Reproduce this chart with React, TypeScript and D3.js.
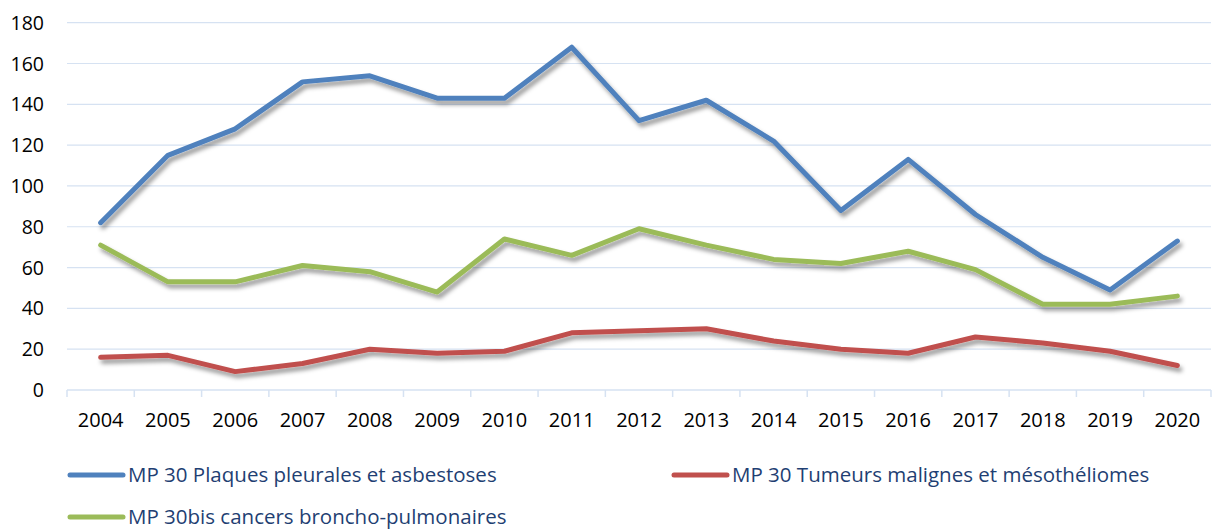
import React from 'react';
import * as d3 from 'd3';

const years = ['2004', '2005', '2006', '2007', '2008', '2009', '2010', '2011', '2012', '2013', '2014', '2015', '2016', '2017', '2018', '2019', '2020'];
const plaques = [82, 115, 128, 151, 154, 143, 143, 168, 132, 142, 122, 88, 113, 86, 65, 49, 73];
const tumeurs = [16, 17, 9, 13, 20, 18, 19, 28, 29, 30, 24, 20, 18, 26, 23, 19, 12];
const cancers = [71, 53, 53, 61, 58, 48, 74, 66, 79, 71, 64, 62, 68, 59, 42, 42, 46];
const yTicks = [0, 20, 40, 60, 80, 100, 120, 140, 160, 180];

const seriesNames = [
  'MP 30 Plaques pleurales et asbestoses',
  'MP 30 Tumeurs malignes et mésothéliomes',
  'MP 30bis cancers broncho-pulmonaires',
];
const seriesColors = ['#4F81BD', '#C0504D', '#9BBB59'];

const W = 1213;
const H = 530;
const margin = { top: 22.7, right: 2, bottom: 140, left: 67 };

const App: React.FC = () => {
  const x = d3.scaleBand<string>()
    .domain(years)
    .range([margin.left, W - margin.right]);

  const y = d3.scaleLinear()
    .domain([0, 180])
    .range([390, margin.top]);

  const line = d3.line<number>()
    .x((_, i) => (x(years[i]) || 0) + x.bandwidth() / 2)
    .y(d => y(d));

  const series = [plaques, tumeurs, cancers];
  const font = '"Open Sans", sans-serif';

  // legend layout: [x of line start, y]
  const legendPos = [[68, 475], [672, 475], [68, 517]];

  return (
    <svg width={W} height={H} style={{ position: 'absolute', left: 0, top: 0 }} fontFamily={font}>
      <defs>
        <filter id="shadow" x="-10%" y="-20%" width="120%" height="150%">
          <feDropShadow dx="2.5" dy="4" stdDeviation="2.3" floodColor="#000" floodOpacity="0.4" />
        </filter>
      </defs>
      <rect width={W} height={H} fill="#fff" />

      {yTicks.map(t => (
        <g key={t}>
          {t > 0 && (
            <line x1={margin.left} x2={W - margin.right} y1={y(t)} y2={y(t)} stroke="#D6E2F2" strokeWidth={1.2} />
          )}
          <text x={44} y={y(t)} dy="0.36em" textAnchor="end" fontSize={19.5} fill="#000">{t}</text>
        </g>
      ))}

      {/* x axis */}
      <line x1={margin.left} x2={W - margin.right} y1={y(0)} y2={y(0)} stroke="#D6E2F2" strokeWidth={1.5} />
      {years.map(yr => (
        <line key={'t' + yr} x1={x(yr)!} x2={x(yr)!} y1={y(0)} y2={y(0) + 7} stroke="#D6E2F2" strokeWidth={1.5} />
      ))}
      <line x1={W - margin.right} x2={W - margin.right} y1={y(0)} y2={y(0) + 7} stroke="#D6E2F2" strokeWidth={1.5} />
      {years.map(yr => (
        <text key={yr} x={(x(yr) || 0) + x.bandwidth() / 2} y={420} dy="0.36em" textAnchor="middle" fontSize={20} fill="#000">{yr}</text>
      ))}

      {series.map((s, i) => (
        <path key={i} d={line(s) || ''} fill="none" stroke={seriesColors[i]} strokeWidth={5}
          strokeLinejoin="round" strokeLinecap="round" filter="url(#shadow)" />
      ))}

      {seriesNames.map((n, i) => (
        <g key={n}>
          <line x1={legendPos[i][0] + 2} x2={legendPos[i][0] + 55} y1={legendPos[i][1]} y2={legendPos[i][1]}
            stroke={seriesColors[i]} strokeWidth={5} strokeLinecap="round" />
          <text x={legendPos[i][0] + 60} y={legendPos[i][1]} dy="0.36em" fontSize={20.5} fill="#1F3F73">{n}</text>
        </g>
      ))}
    </svg>
  );
};

export default App;
